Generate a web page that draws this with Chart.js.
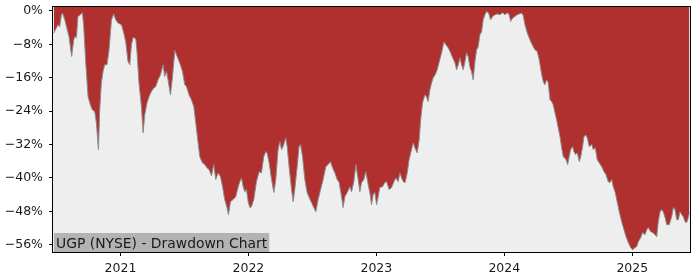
<!DOCTYPE html>
<html>
<head>
<meta charset="utf-8">
<title>UGP (NYSE) - Drawdown Chart</title>
<script src="https://cdn.jsdelivr.net/npm/chart.js@4.4.1/dist/chart.umd.min.js"></script>
<style>
    html, body { margin: 0; padding: 0; background: #ffffff; }
    #wrap { width: 700px; height: 280px; }
</style>
</head>
<body>
<div id="wrap"><canvas id="drawdownChart" width="700" height="280"></canvas></div>
<script>
// Chart data
const chartTitle = 'UGP (NYSE) - Drawdown Chart';

// dates as fractional years
const dates = [
    2020.479, 2020.500, 2020.512, 2020.525, 2020.539, 2020.547, 2020.565, 2020.578, 2020.598, 2020.619,
    2020.635, 2020.645, 2020.656, 2020.668, 2020.687, 2020.703, 2020.713, 2020.729, 2020.747, 2020.765,
    2020.781, 2020.799, 2020.812, 2020.828, 2020.838, 2020.851, 2020.864, 2020.877, 2020.895, 2020.911,
    2020.930, 2020.948, 2020.963, 2020.981, 2021.008, 2021.026, 2021.041, 2021.059, 2021.073, 2021.086,
    2021.099, 2021.120, 2021.130, 2021.145, 2021.164, 2021.177, 2021.190, 2021.208, 2021.224, 2021.242,
    2021.260, 2021.276, 2021.294, 2021.313, 2021.333, 2021.346, 2021.360, 2021.372, 2021.391, 2021.407,
    2021.425, 2021.443, 2021.464, 2021.485, 2021.503, 2021.516, 2021.536, 2021.555, 2021.573, 2021.589,
    2021.607, 2021.620, 2021.641, 2021.659, 2021.677, 2021.693, 2021.712, 2021.729, 2021.745, 2021.763,
    2021.782, 2021.798, 2021.815, 2021.833, 2021.844, 2021.860, 2021.880, 2021.901, 2021.919, 2021.933,
    2021.946, 2021.959, 2021.972, 2021.985, 2021.998, 2022.011, 2022.024, 2022.042, 2022.063, 2022.084,
    2022.102, 2022.120, 2022.136, 2022.146, 2022.162, 2022.181, 2022.199, 2022.214, 2022.232, 2022.246,
    2022.259, 2022.271, 2022.292, 2022.303, 2022.318, 2022.337, 2022.350, 2022.365, 2022.381, 2022.396,
    2022.407, 2022.423, 2022.441, 2022.459, 2022.475, 2022.493, 2022.511, 2022.527, 2022.545, 2022.564,
    2022.584, 2022.605, 2022.623, 2022.642, 2022.658, 2022.676, 2022.694, 2022.709, 2022.728, 2022.740,
    2022.754, 2022.772, 2022.793, 2022.806, 2022.824, 2022.840, 2022.858, 2022.871, 2022.884, 2022.902,
    2022.918, 2022.936, 2022.952, 2022.962, 2022.975, 2022.988, 2023.002, 2023.014, 2023.027, 2023.049,
    2023.066, 2023.080, 2023.100, 2023.119, 2023.137, 2023.152, 2023.170, 2023.184, 2023.197, 2023.210,
    2023.225, 2023.241, 2023.256, 2023.275, 2023.288, 2023.301, 2023.319, 2023.335, 2023.346, 2023.361,
    2023.379, 2023.392, 2023.405, 2023.418, 2023.432, 2023.444, 2023.460, 2023.475, 2023.491, 2023.510,
    2023.528, 2023.543, 2023.561, 2023.580, 2023.596, 2023.614, 2023.627, 2023.640, 2023.653, 2023.666,
    2023.679, 2023.692, 2023.705, 2023.718, 2023.731, 2023.744, 2023.757, 2023.770, 2023.783, 2023.796,
    2023.809, 2023.822, 2023.835, 2023.848, 2023.862, 2023.877, 2023.893, 2023.909, 2023.927, 2023.944,
    2023.966, 2023.987, 2024.005, 2024.023, 2024.038, 2024.049, 2024.065, 2024.083, 2024.101, 2024.117,
    2024.135, 2024.148, 2024.161, 2024.179, 2024.200, 2024.221, 2024.239, 2024.257, 2024.273, 2024.292,
    2024.304, 2024.317, 2024.331, 2024.343, 2024.357, 2024.370, 2024.382, 2024.396, 2024.409, 2024.421,
    2024.435, 2024.448, 2024.461, 2024.482, 2024.495, 2024.507, 2024.518, 2024.534, 2024.544, 2024.557,
    2024.570, 2024.586, 2024.597, 2024.612, 2024.622, 2024.638, 2024.648, 2024.664, 2024.683, 2024.695,
    2024.711, 2024.726, 2024.742, 2024.761, 2024.779, 2024.794, 2024.812, 2024.826, 2024.839, 2024.851,
    2024.867, 2024.883, 2024.898, 2024.917, 2024.935, 2024.951, 2024.969, 2024.987, 2025.003, 2025.021,
    2025.034, 2025.047, 2025.066, 2025.081, 2025.099, 2025.113, 2025.125, 2025.144, 2025.160, 2025.178,
    2025.191, 2025.203, 2025.217, 2025.230, 2025.242, 2025.256, 2025.269, 2025.289, 2025.308, 2025.321,
    2025.334, 2025.347, 2025.360, 2025.373, 2025.386, 2025.399, 2025.412, 2025.425, 2025.438, 2025.446
];

// drawdown in percent
const drawdown = [
    -5.3, -4.0, -3.3, -3.8, -0.9, -0.5, -2.1, -3.7, -6.1, -10.9,
    -6.9, -6.1, -6.4, -1.3, -0.9, -0.4, -3.7, -12.4, -20.5, -22.5,
    -23.7, -24.1, -26.8, -33.2, -23.7, -17.2, -14.5, -12.9, -12.9, -9.3,
    -2.1, -0.7, -2.1, -2.9, -3.3, -5.3, -7.3, -12.1, -12.9, -8.1,
    -6.3, -6.7, -10.0, -17.3, -22.9, -29.2, -24.9, -22.0, -20.5, -19.3,
    -18.5, -18.1, -16.5, -15.3, -12.9, -15.7, -14.5, -16.5, -20.1, -15.7,
    -9.5, -10.9, -12.5, -14.5, -17.7, -18.1, -20.1, -21.3, -22.9, -26.9,
    -31.6, -34.9, -36.4, -36.8, -37.6, -38.0, -39.5, -36.8, -40.4, -38.8,
    -39.7, -42.1, -45.2, -47.1, -48.8, -45.7, -45.2, -44.5, -42.3, -40.9,
    -40.0, -42.1, -43.3, -42.8, -45.7, -47.1, -46.9, -45.2, -40.9, -38.5,
    -38.8, -34.9, -33.7, -34.0, -36.4, -40.4, -43.5, -40.4, -33.2, -31.3,
    -33.2, -32.5, -30.4, -32.5, -37.3, -42.8, -45.7, -42.1, -37.3, -32.5,
    -32.0, -34.9, -40.4, -43.5, -44.7, -45.9, -47.1, -48.1, -45.2, -42.8,
    -40.4, -37.3, -36.8, -36.1, -37.6, -38.8, -40.4, -41.1, -44.5, -47.1,
    -44.5, -43.5, -42.1, -43.3, -40.9, -36.8, -40.4, -43.3, -41.1, -40.4,
    -38.5, -41.6, -44.0, -46.4, -44.0, -43.5, -46.4, -44.5, -42.3, -42.1,
    -41.1, -40.9, -42.8, -42.3, -40.9, -40.0, -40.9, -38.8, -40.0, -40.9,
    -41.1, -38.8, -35.6, -33.2, -31.6, -32.8, -34.0, -30.8, -26.1, -22.0,
    -20.1, -20.6, -21.7, -18.9, -17.2, -16.0, -15.3, -14.1, -12.2, -10.0,
    -7.4, -8.1, -8.8, -10.0, -11.2, -12.4, -14.1, -12.9, -11.2, -12.9,
    -14.1, -12.2, -10.0, -11.0, -13.4, -14.6, -16.5, -12.2, -9.3, -8.6,
    -5.7, -5.0, -2.1, -0.9, -0.1, -0.5, -2.1, -1.3, -0.9, -0.7,
    -0.9, -0.4, -0.9, -0.4, -0.9, -2.5, -1.7, -1.3, -0.9, -0.7,
    -0.5, -1.1, -3.3, -5.2, -6.9, -8.3, -9.3, -9.7, -11.7, -15.3,
    -16.9, -17.7, -16.5, -17.2, -21.3, -21.7, -22.5, -24.4, -26.1, -28.0,
    -30.1, -32.8, -34.9, -35.6, -36.8, -34.9, -33.2, -32.5, -33.7, -34.4,
    -34.0, -36.1, -34.9, -32.5, -30.1, -29.7, -30.4, -32.5, -32.0, -33.2,
    -32.8, -35.6, -36.4, -37.3, -38.5, -39.2, -40.9, -41.1, -40.4, -42.1,
    -43.5, -45.9, -48.1, -50.5, -52.4, -54.1, -55.5, -56.7, -57.2, -56.7,
    -56.5, -55.3, -54.3, -53.1, -53.6, -52.4, -51.9, -52.9, -53.1, -53.6,
    -54.1, -50.5, -48.1, -47.6, -48.1, -49.5, -51.2, -51.2, -49.3, -47.1,
    -47.6, -50.0, -50.0, -48.1, -48.8, -49.3, -50.5, -50.7, -49.5, -48.3
];

// tick labels
const yearTicks = [2021, 2022, 2023, 2024, 2025];
const pctTicks = [0, -8, -16, -24, -32, -40, -48, -56];

const FONT = 'DejaVu Sans';

// Plot background, frame and the title box inside the axes
const axesDecor = {
    id: 'axesDecor',
    beforeDraw(chart) {
        const { ctx, chartArea: a } = chart;
        ctx.save();
        ctx.fillStyle = '#eeeeee';
        ctx.fillRect(a.left, a.top, a.right - a.left, a.bottom - a.top);
        ctx.restore();
    },
    afterDatasetsDraw(chart) {
        const { ctx, chartArea: a } = chart;
        ctx.save();

        // title box, bottom left
        ctx.font = '13.9px "' + FONT + '"';
        const w = ctx.measureText(chartTitle).width;
        ctx.fillStyle = '#b3b3b3';
        ctx.fillRect(a.left + 1, a.bottom - 19, w + 4, 19);
        ctx.fillStyle = '#1a1a1a';
        ctx.textBaseline = 'alphabetic';
        ctx.fillText(chartTitle, a.left + 3, a.bottom - 4.5);

        // frame
        ctx.strokeStyle = '#000000';
        ctx.lineWidth = 1;
        ctx.strokeRect(a.left - 0.5, a.top - 0.5, a.right - a.left + 1, a.bottom - a.top + 1);
        ctx.restore();
    }
};

function initDrawdownChart() {
    const ctx = document.getElementById('drawdownChart');
    const points = dates.map((d, i) => ({ x: d, y: drawdown[i] }));

    const tickFont = { family: FONT, size: 12.5 };

    new Chart(ctx, {
        type: 'line',
        data: {
            datasets: [{
                data: points,
                borderColor: '#8c8c8c',
                borderWidth: 1,
                backgroundColor: '#b03030',
                fill: 'end',
                pointRadius: 0,
                tension: 0
            }]
        },
        options: {
            responsive: false,
            animation: false,
            events: [],
            layout: { padding: { left: 0, top: 7, right: 10, bottom: 0 } },
            plugins: {
                legend: { display: false },
                tooltip: { enabled: false }
            },
            scales: {
                x: {
                    type: 'linear',
                    min: 2020.473,
                    max: 2025.451,
                    border: { display: false },
                    grid: {
                        drawOnChartArea: false,
                        tickLength: 4,
                        tickColor: '#000000',
                        tickWidth: 1
                    },
                    ticks: {
                        color: '#1a1a1a',
                        font: tickFont,
                        padding: 5,
                        maxRotation: 0,
                        callback: v => String(v)
                    },
                    afterBuildTicks: scale => {
                        scale.ticks = yearTicks.map(v => ({ value: v }));
                    },
                    afterFit: scale => {
                        scale.height = 28;
                        scale.paddingLeft = 0;
                        scale.paddingRight = 0;
                    }
                },
                y: {
                    min: -57.75,
                    max: 0.95,
                    border: { display: false },
                    grid: {
                        drawOnChartArea: false,
                        tickLength: 4,
                        tickColor: '#000000',
                        tickWidth: 1
                    },
                    ticks: {
                        color: '#1a1a1a',
                        font: tickFont,
                        padding: 6,
                        callback: v => (v < 0 ? '\u2212' : '') + Math.abs(v) + '%'
                    },
                    afterBuildTicks: scale => {
                        scale.ticks = pctTicks.map(v => ({ value: v }));
                    },
                    afterFit: scale => {
                        scale.width = 53;
                        scale.paddingTop = 0;
                        scale.paddingBottom = 0;
                    }
                }
            }
        },
        plugins: [axesDecor]
    });
}

initDrawdownChart();
</script>
</body>
</html>
